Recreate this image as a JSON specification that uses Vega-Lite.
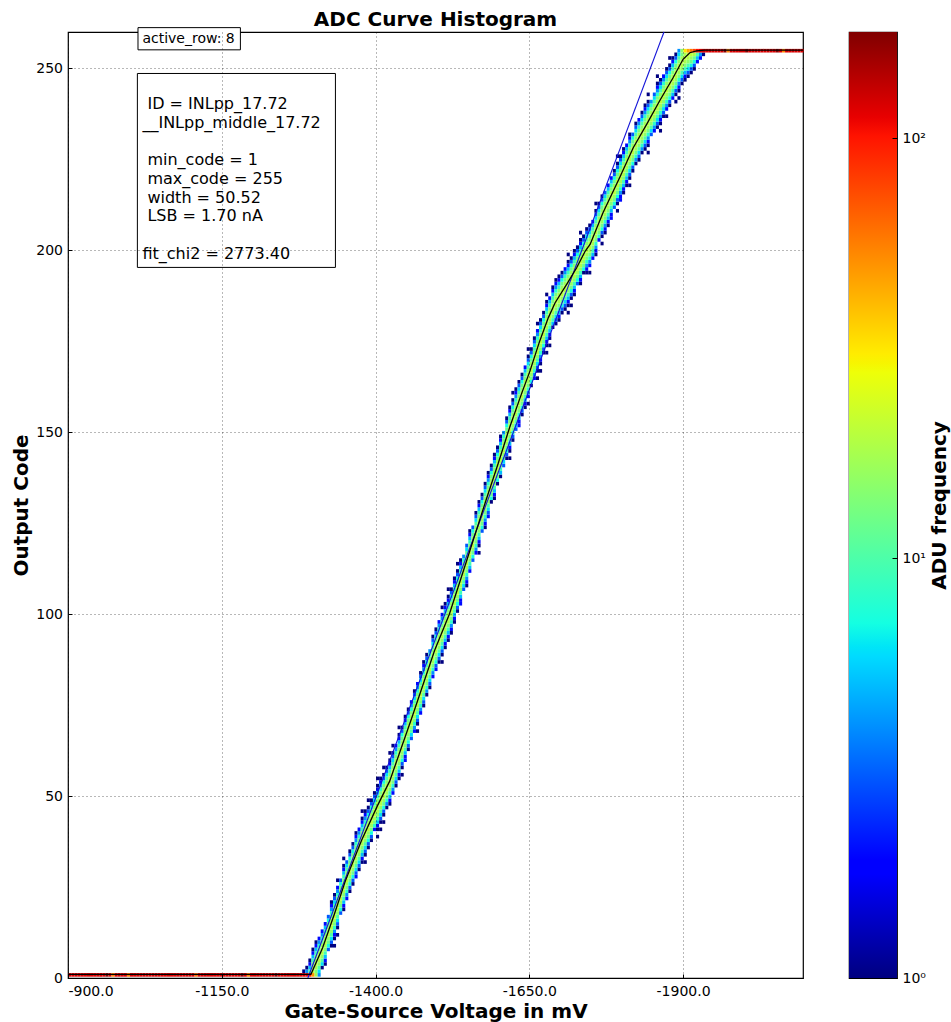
{
"$schema":"https://vega.github.io/schema/vega-lite/v6.json",
"background":"white",
"padding":{"left":11,"top":9,"right":0,"bottom":0},
"bounds":"flush",
"spacing":46,
"config":{"font":"DejaVu Sans","view":{"stroke":"#000","strokeWidth":1.2},
"axis":{"labelFont":"DejaVu Sans","labelFontSize":14,"labelColor":"#000","titleFont":"DejaVu Sans","titleFontSize":20,"titleFontWeight":"bold","titleColor":"#000","domain":false,"grid":false,"tickColor":"#000"},
"title":{"font":"DejaVu Sans","fontSize":20,"fontWeight":"bold","color":"#000"}},
"hconcat":[
{"width":735,"height":946,
"title":{"text":"ADC Curve Histogram","frame":"group","anchor":"middle","offset":-3},
"layer":[
{"data":{"values":[
{"x":-905,"y":0.5,"n":121},{"x":-910,"y":0.5,"n":118},{"x":-915,"y":0.5,"n":124},{"x":-920,"y":0.5,"n":119},{"x":-925,"y":0.5,"n":122},{"x":-930,"y":0.5,"n":117},{"x":-935,"y":0.5,"n":125},{"x":-940,"y":0.5,"n":120},{"x":-945,"y":0.5,"n":118},{"x":-950,"y":0.5,"n":123},{"x":-955,"y":0.5,"n":119},{"x":-960,"y":0.5,"n":121},{"x":-965,"y":0.5,"n":170},{"x":-970,"y":0.5,"n":122},{"x":-975,"y":0.5,"n":55},{"x":-980,"y":0.5,"n":118},{"x":-985,"y":0.5,"n":124},{"x":-990,"y":0.5,"n":120},{"x":-995,"y":0.5,"n":121},{"x":-1000,"y":0.5,"n":58},
{"x":-1005,"y":0.5,"n":123},{"x":-1010,"y":0.5,"n":119},{"x":-1015,"y":0.5,"n":121},{"x":-1020,"y":0.5,"n":118},{"x":-1025,"y":0.5,"n":124},{"x":-1030,"y":0.5,"n":120},{"x":-1035,"y":0.5,"n":117},{"x":-1040,"y":0.5,"n":122},{"x":-1045,"y":0.5,"n":125},{"x":-1050,"y":0.5,"n":119},{"x":-1055,"y":0.5,"n":121},{"x":-1060,"y":0.5,"n":118},{"x":-1065,"y":0.5,"n":123},{"x":-1070,"y":0.5,"n":120},{"x":-1075,"y":0.5,"n":119},{"x":-1080,"y":0.5,"n":124},{"x":-1085,"y":0.5,"n":121},{"x":-1090,"y":0.5,"n":117},{"x":-1095,"y":0.5,"n":122},{"x":-1100,"y":0.5,"n":120},
{"x":-1105,"y":0.5,"n":123},{"x":-1110,"y":0.5,"n":60},{"x":-1115,"y":0.5,"n":119},{"x":-1120,"y":0.5,"n":121},{"x":-1125,"y":0.5,"n":124},{"x":-1130,"y":0.5,"n":118},{"x":-1135,"y":0.5,"n":122},{"x":-1140,"y":0.5,"n":120},{"x":-1145,"y":0.5,"n":117},{"x":-1150,"y":0.5,"n":123},{"x":-1155,"y":0.5,"n":121},{"x":-1160,"y":0.5,"n":119},{"x":-1165,"y":0.5,"n":124},{"x":-1170,"y":0.5,"n":120},{"x":-1175,"y":0.5,"n":118},{"x":-1180,"y":0.5,"n":122},{"x":-1185,"y":0.5,"n":170},{"x":-1190,"y":0.5,"n":121},{"x":-1195,"y":0.5,"n":55},{"x":-1200,"y":0.5,"n":119},
{"x":-1205,"y":0.5,"n":123},{"x":-1210,"y":0.5,"n":120},{"x":-1215,"y":0.5,"n":118},{"x":-1220,"y":0.5,"n":124},{"x":-1225,"y":0.5,"n":121},{"x":-1230,"y":0.5,"n":119},{"x":-1235,"y":0.5,"n":122},{"x":-1240,"y":0.5,"n":168},{"x":-1245,"y":0.5,"n":120},{"x":-1250,"y":0.5,"n":118},{"x":-1255,"y":0.5,"n":123},{"x":-1260,"y":0.5,"n":121},{"x":-1265,"y":0.5,"n":119},{"x":-1270,"y":0.5,"n":124},{"x":-1275,"y":0.5,"n":120},{"x":-1280,"y":0.5,"n":118},{"x":-1285,"y":0.5,"n":120},{"x":-1285,"y":1.5,"n":1},{"x":-1290,"y":0.5,"n":110},{"x":-1290,"y":1.5,"n":4},{"x":-1290,"y":2.5,"n":1},
{"x":-1295,"y":0.5,"n":95},{"x":-1295,"y":1.5,"n":10},{"x":-1295,"y":2.5,"n":5},{"x":-1295,"y":3.5,"n":2},{"x":-1295,"y":4.5,"n":1},
{"x":-1300,"y":0.5,"n":49},{"x":-1300,"y":1.5,"n":20},{"x":-1300,"y":2.5,"n":18},{"x":-1300,"y":3.5,"n":14},{"x":-1300,"y":4.5,"n":9},{"x":-1300,"y":5.5,"n":5},{"x":-1300,"y":6.5,"n":2},{"x":-1300,"y":7.5,"n":1},
{"x":-1305,"y":0.5,"n":17},{"x":-1305,"y":1.5,"n":14},{"x":-1305,"y":2.5,"n":18},{"x":-1305,"y":3.5,"n":20},{"x":-1305,"y":4.5,"n":18},{"x":-1305,"y":5.5,"n":14},{"x":-1305,"y":6.5,"n":9},{"x":-1305,"y":7.5,"n":5},{"x":-1305,"y":8.5,"n":2},{"x":-1305,"y":9.5,"n":1},
{"x":-1310,"y":0.5,"n":4},{"x":-1310,"y":1.5,"n":6},{"x":-1310,"y":2.5,"n":10},{"x":-1310,"y":3.5,"n":15},{"x":-1310,"y":4.5,"n":19},{"x":-1310,"y":5.5,"n":20},{"x":-1310,"y":6.5,"n":17},{"x":-1310,"y":7.5,"n":13},{"x":-1310,"y":8.5,"n":8},{"x":-1310,"y":9.5,"n":4},{"x":-1310,"y":10.5,"n":2},
{"x":-1315,"y":2.5,"n":1},{"x":-1315,"y":3.5,"n":6},{"x":-1315,"y":4.5,"n":10},{"x":-1315,"y":5.5,"n":15},{"x":-1315,"y":6.5,"n":19},{"x":-1315,"y":7.5,"n":21},{"x":-1315,"y":8.5,"n":17},{"x":-1315,"y":9.5,"n":13},{"x":-1315,"y":10.5,"n":8},{"x":-1315,"y":11.5,"n":4},{"x":-1315,"y":12.5,"n":2},
{"x":-1320,"y":3.5,"n":1},{"x":-1320,"y":4.5,"n":2},{"x":-1320,"y":5.5,"n":5},{"x":-1320,"y":6.5,"n":9},{"x":-1320,"y":7.5,"n":14},{"x":-1320,"y":8.5,"n":18},{"x":-1320,"y":9.5,"n":20},{"x":-1320,"y":10.5,"n":18},{"x":-1320,"y":11.5,"n":14},{"x":-1320,"y":12.5,"n":9},{"x":-1320,"y":13.5,"n":5},{"x":-1320,"y":14.5,"n":2},
{"x":-1325,"y":7.5,"n":3},{"x":-1325,"y":8.5,"n":7},{"x":-1325,"y":9.5,"n":12},{"x":-1325,"y":10.5,"n":16},{"x":-1325,"y":11.5,"n":20},{"x":-1325,"y":12.5,"n":19},{"x":-1325,"y":13.5,"n":16},{"x":-1325,"y":14.5,"n":12},{"x":-1325,"y":15.5,"n":7},{"x":-1325,"y":16.5,"n":3},
{"x":-1330,"y":8.5,"n":1},{"x":-1330,"y":9.5,"n":3},{"x":-1330,"y":10.5,"n":6},{"x":-1330,"y":11.5,"n":10},{"x":-1330,"y":12.5,"n":15},{"x":-1330,"y":13.5,"n":19},{"x":-1330,"y":14.5,"n":20},{"x":-1330,"y":15.5,"n":17},{"x":-1330,"y":16.5,"n":13},{"x":-1330,"y":17.5,"n":8},{"x":-1330,"y":18.5,"n":4},{"x":-1330,"y":19.5,"n":2},{"x":-1330,"y":20.5,"n":1},
{"x":-1335,"y":8.5,"n":1},{"x":-1335,"y":10.5,"n":1},{"x":-1335,"y":11.5,"n":2},{"x":-1335,"y":12.5,"n":4},{"x":-1335,"y":13.5,"n":8},{"x":-1335,"y":14.5,"n":13},{"x":-1335,"y":15.5,"n":17},{"x":-1335,"y":16.5,"n":21},{"x":-1335,"y":17.5,"n":19},{"x":-1335,"y":18.5,"n":15},{"x":-1335,"y":19.5,"n":10},{"x":-1335,"y":20.5,"n":6},{"x":-1335,"y":21.5,"n":3},{"x":-1335,"y":22.5,"n":1},
{"x":-1340,"y":11.5,"n":1},{"x":-1340,"y":13.5,"n":1},{"x":-1340,"y":14.5,"n":3},{"x":-1340,"y":15.5,"n":6},{"x":-1340,"y":16.5,"n":10},{"x":-1340,"y":17.5,"n":15},{"x":-1340,"y":18.5,"n":19},{"x":-1340,"y":19.5,"n":20},{"x":-1340,"y":20.5,"n":17},{"x":-1340,"y":21.5,"n":13},{"x":-1340,"y":22.5,"n":8},{"x":-1340,"y":23.5,"n":4},{"x":-1340,"y":24.5,"n":2},{"x":-1340,"y":26.5,"n":1},
{"x":-1345,"y":17.5,"n":3},{"x":-1345,"y":18.5,"n":7},{"x":-1345,"y":19.5,"n":12},{"x":-1345,"y":20.5,"n":16},{"x":-1345,"y":21.5,"n":20},{"x":-1345,"y":22.5,"n":20},{"x":-1345,"y":23.5,"n":16},{"x":-1345,"y":24.5,"n":12},{"x":-1345,"y":25.5,"n":7},{"x":-1345,"y":26.5,"n":3},
{"x":-1350,"y":18.5,"n":1},{"x":-1350,"y":19.5,"n":2},{"x":-1350,"y":20.5,"n":5},{"x":-1350,"y":21.5,"n":9},{"x":-1350,"y":22.5,"n":14},{"x":-1350,"y":23.5,"n":18},{"x":-1350,"y":24.5,"n":21},{"x":-1350,"y":25.5,"n":18},{"x":-1350,"y":26.5,"n":14},{"x":-1350,"y":27.5,"n":9},{"x":-1350,"y":28.5,"n":5},{"x":-1350,"y":29.5,"n":2},{"x":-1350,"y":30.5,"n":1},{"x":-1350,"y":32.5,"n":1},
{"x":-1355,"y":21.5,"n":2},{"x":-1355,"y":22.5,"n":4},{"x":-1355,"y":23.5,"n":8},{"x":-1355,"y":24.5,"n":13},{"x":-1355,"y":25.5,"n":17},{"x":-1355,"y":26.5,"n":20},{"x":-1355,"y":27.5,"n":19},{"x":-1355,"y":28.5,"n":15},{"x":-1355,"y":29.5,"n":10},{"x":-1355,"y":30.5,"n":6},{"x":-1355,"y":31.5,"n":3},
{"x":-1360,"y":23.5,"n":1},{"x":-1360,"y":24.5,"n":3},{"x":-1360,"y":25.5,"n":7},{"x":-1360,"y":26.5,"n":12},{"x":-1360,"y":27.5,"n":16},{"x":-1360,"y":28.5,"n":20},{"x":-1360,"y":29.5,"n":20},{"x":-1360,"y":30.5,"n":16},{"x":-1360,"y":31.5,"n":12},{"x":-1360,"y":32.5,"n":7},{"x":-1360,"y":33.5,"n":3},{"x":-1360,"y":34.5,"n":1},
{"x":-1365,"y":25.5,"n":1},{"x":-1365,"y":26.5,"n":3},{"x":-1365,"y":27.5,"n":7},{"x":-1365,"y":28.5,"n":12},{"x":-1365,"y":29.5,"n":16},{"x":-1365,"y":30.5,"n":19},{"x":-1365,"y":31.5,"n":21},{"x":-1365,"y":32.5,"n":16},{"x":-1365,"y":33.5,"n":12},{"x":-1365,"y":34.5,"n":7},{"x":-1365,"y":35.5,"n":3},{"x":-1365,"y":36.5,"n":1},
{"x":-1370,"y":27.5,"n":2},{"x":-1370,"y":28.5,"n":3},{"x":-1370,"y":29.5,"n":6},{"x":-1370,"y":30.5,"n":10},{"x":-1370,"y":31.5,"n":15},{"x":-1370,"y":32.5,"n":19},{"x":-1370,"y":33.5,"n":20},{"x":-1370,"y":34.5,"n":17},{"x":-1370,"y":35.5,"n":13},{"x":-1370,"y":36.5,"n":8},{"x":-1370,"y":37.5,"n":4},{"x":-1370,"y":38.5,"n":2},{"x":-1370,"y":39.5,"n":1},
{"x":-1375,"y":29.5,"n":1},{"x":-1375,"y":30.5,"n":3},{"x":-1375,"y":31.5,"n":6},{"x":-1375,"y":32.5,"n":10},{"x":-1375,"y":33.5,"n":15},{"x":-1375,"y":34.5,"n":19},{"x":-1375,"y":35.5,"n":20},{"x":-1375,"y":36.5,"n":17},{"x":-1375,"y":37.5,"n":13},{"x":-1375,"y":38.5,"n":8},{"x":-1375,"y":39.5,"n":4},{"x":-1375,"y":40.5,"n":2},
{"x":-1380,"y":31.5,"n":1},{"x":-1380,"y":32.5,"n":2},{"x":-1380,"y":33.5,"n":5},{"x":-1380,"y":34.5,"n":9},{"x":-1380,"y":35.5,"n":14},{"x":-1380,"y":36.5,"n":18},{"x":-1380,"y":37.5,"n":20},{"x":-1380,"y":38.5,"n":18},{"x":-1380,"y":39.5,"n":14},{"x":-1380,"y":40.5,"n":9},{"x":-1380,"y":41.5,"n":5},{"x":-1380,"y":42.5,"n":2},{"x":-1380,"y":43.5,"n":1},{"x":-1380,"y":45.5,"n":1},
{"x":-1385,"y":31.5,"n":1},{"x":-1385,"y":33.5,"n":1},{"x":-1385,"y":34.5,"n":3},{"x":-1385,"y":35.5,"n":6},{"x":-1385,"y":36.5,"n":10},{"x":-1385,"y":37.5,"n":15},{"x":-1385,"y":38.5,"n":19},{"x":-1385,"y":39.5,"n":20},{"x":-1385,"y":40.5,"n":17},{"x":-1385,"y":41.5,"n":13},{"x":-1385,"y":42.5,"n":8},{"x":-1385,"y":43.5,"n":4},{"x":-1385,"y":44.5,"n":2},{"x":-1385,"y":45.5,"n":1},
{"x":-1390,"y":35.5,"n":1},{"x":-1390,"y":36.5,"n":3},{"x":-1390,"y":37.5,"n":7},{"x":-1390,"y":38.5,"n":12},{"x":-1390,"y":39.5,"n":16},{"x":-1390,"y":40.5,"n":20},{"x":-1390,"y":41.5,"n":20},{"x":-1390,"y":42.5,"n":16},{"x":-1390,"y":43.5,"n":12},{"x":-1390,"y":44.5,"n":7},{"x":-1390,"y":45.5,"n":3},{"x":-1390,"y":46.5,"n":1},{"x":-1390,"y":48.5,"n":1},
{"x":-1395,"y":37.5,"n":1},{"x":-1395,"y":38.5,"n":3},{"x":-1395,"y":39.5,"n":7},{"x":-1395,"y":40.5,"n":12},{"x":-1395,"y":41.5,"n":16},{"x":-1395,"y":42.5,"n":20},{"x":-1395,"y":43.5,"n":20},{"x":-1395,"y":44.5,"n":16},{"x":-1395,"y":45.5,"n":12},{"x":-1395,"y":46.5,"n":7},{"x":-1395,"y":47.5,"n":3},{"x":-1395,"y":48.5,"n":1},
{"x":-1400,"y":40.5,"n":2},{"x":-1400,"y":41.5,"n":8},{"x":-1400,"y":42.5,"n":13},{"x":-1400,"y":43.5,"n":17},{"x":-1400,"y":44.5,"n":20},{"x":-1400,"y":45.5,"n":19},{"x":-1400,"y":46.5,"n":15},{"x":-1400,"y":47.5,"n":10},{"x":-1400,"y":48.5,"n":6},{"x":-1400,"y":49.5,"n":3},{"x":-1400,"y":50.5,"n":1},
{"x":-1405,"y":38.5,"n":1},{"x":-1405,"y":40.5,"n":1},{"x":-1405,"y":41.5,"n":2},{"x":-1405,"y":42.5,"n":5},{"x":-1405,"y":43.5,"n":9},{"x":-1405,"y":44.5,"n":14},{"x":-1405,"y":45.5,"n":18},{"x":-1405,"y":46.5,"n":20},{"x":-1405,"y":47.5,"n":18},{"x":-1405,"y":48.5,"n":14},{"x":-1405,"y":49.5,"n":9},{"x":-1405,"y":50.5,"n":5},{"x":-1405,"y":51.5,"n":2},{"x":-1405,"y":52.5,"n":1},{"x":-1405,"y":54.5,"n":1},
{"x":-1410,"y":40.5,"n":1},{"x":-1410,"y":42.5,"n":1},{"x":-1410,"y":43.5,"n":3},{"x":-1410,"y":44.5,"n":6},{"x":-1410,"y":45.5,"n":10},{"x":-1410,"y":46.5,"n":15},{"x":-1410,"y":47.5,"n":19},{"x":-1410,"y":48.5,"n":20},{"x":-1410,"y":49.5,"n":17},{"x":-1410,"y":50.5,"n":13},{"x":-1410,"y":51.5,"n":8},{"x":-1410,"y":52.5,"n":4},{"x":-1410,"y":53.5,"n":2},{"x":-1410,"y":54.5,"n":1},
{"x":-1415,"y":42.5,"n":1},{"x":-1415,"y":44.5,"n":1},{"x":-1415,"y":45.5,"n":3},{"x":-1415,"y":46.5,"n":7},{"x":-1415,"y":47.5,"n":12},{"x":-1415,"y":48.5,"n":16},{"x":-1415,"y":49.5,"n":20},{"x":-1415,"y":50.5,"n":20},{"x":-1415,"y":51.5,"n":16},{"x":-1415,"y":52.5,"n":12},{"x":-1415,"y":53.5,"n":7},{"x":-1415,"y":54.5,"n":3},{"x":-1415,"y":55.5,"n":1},{"x":-1415,"y":57.5,"n":1},
{"x":-1420,"y":46.5,"n":1},{"x":-1420,"y":47.5,"n":4},{"x":-1420,"y":48.5,"n":8},{"x":-1420,"y":49.5,"n":13},{"x":-1420,"y":50.5,"n":17},{"x":-1420,"y":51.5,"n":20},{"x":-1420,"y":52.5,"n":19},{"x":-1420,"y":53.5,"n":15},{"x":-1420,"y":54.5,"n":10},{"x":-1420,"y":55.5,"n":6},{"x":-1420,"y":56.5,"n":3},{"x":-1420,"y":57.5,"n":1},
{"x":-1425,"y":47.5,"n":1},{"x":-1425,"y":48.5,"n":2},{"x":-1425,"y":49.5,"n":5},{"x":-1425,"y":50.5,"n":9},{"x":-1425,"y":51.5,"n":14},{"x":-1425,"y":52.5,"n":18},{"x":-1425,"y":53.5,"n":20},{"x":-1425,"y":54.5,"n":18},{"x":-1425,"y":55.5,"n":14},{"x":-1425,"y":56.5,"n":9},{"x":-1425,"y":57.5,"n":5},{"x":-1425,"y":58.5,"n":2},{"x":-1425,"y":59.5,"n":1},{"x":-1425,"y":61.5,"n":1},
{"x":-1430,"y":50.5,"n":2},{"x":-1430,"y":51.5,"n":4},{"x":-1430,"y":52.5,"n":8},{"x":-1430,"y":53.5,"n":13},{"x":-1430,"y":54.5,"n":17},{"x":-1430,"y":55.5,"n":20},{"x":-1430,"y":56.5,"n":19},{"x":-1430,"y":57.5,"n":15},{"x":-1430,"y":58.5,"n":10},{"x":-1430,"y":59.5,"n":6},{"x":-1430,"y":60.5,"n":3},{"x":-1430,"y":61.5,"n":1},{"x":-1430,"y":63.5,"n":1},
{"x":-1435,"y":52.5,"n":1},{"x":-1435,"y":53.5,"n":3},{"x":-1435,"y":54.5,"n":6},{"x":-1435,"y":55.5,"n":10},{"x":-1435,"y":56.5,"n":15},{"x":-1435,"y":57.5,"n":19},{"x":-1435,"y":58.5,"n":20},{"x":-1435,"y":59.5,"n":17},{"x":-1435,"y":60.5,"n":13},{"x":-1435,"y":61.5,"n":8},{"x":-1435,"y":62.5,"n":4},{"x":-1435,"y":63.5,"n":2},
{"x":-1440,"y":54.5,"n":1},{"x":-1440,"y":55.5,"n":2},{"x":-1440,"y":56.5,"n":5},{"x":-1440,"y":57.5,"n":9},{"x":-1440,"y":58.5,"n":14},{"x":-1440,"y":59.5,"n":18},{"x":-1440,"y":60.5,"n":20},{"x":-1440,"y":61.5,"n":18},{"x":-1440,"y":62.5,"n":14},{"x":-1440,"y":63.5,"n":9},{"x":-1440,"y":64.5,"n":5},{"x":-1440,"y":65.5,"n":2},{"x":-1440,"y":66.5,"n":1},{"x":-1440,"y":68.5,"n":1},
{"x":-1445,"y":55.5,"n":1},{"x":-1445,"y":57.5,"n":1},{"x":-1445,"y":58.5,"n":3},{"x":-1445,"y":59.5,"n":7},{"x":-1445,"y":60.5,"n":12},{"x":-1445,"y":61.5,"n":16},{"x":-1445,"y":62.5,"n":20},{"x":-1445,"y":63.5,"n":20},{"x":-1445,"y":64.5,"n":16},{"x":-1445,"y":65.5,"n":12},{"x":-1445,"y":66.5,"n":7},{"x":-1445,"y":67.5,"n":3},{"x":-1445,"y":68.5,"n":1},
{"x":-1450,"y":59.5,"n":2},{"x":-1450,"y":60.5,"n":2},{"x":-1450,"y":61.5,"n":5},{"x":-1450,"y":62.5,"n":9},{"x":-1450,"y":63.5,"n":14},{"x":-1450,"y":64.5,"n":18},{"x":-1450,"y":65.5,"n":20},{"x":-1450,"y":66.5,"n":18},{"x":-1450,"y":67.5,"n":14},{"x":-1450,"y":68.5,"n":9},{"x":-1450,"y":69.5,"n":5},{"x":-1450,"y":70.5,"n":2},{"x":-1450,"y":71.5,"n":1},
{"x":-1455,"y":62.5,"n":1},{"x":-1455,"y":63.5,"n":3},{"x":-1455,"y":64.5,"n":7},{"x":-1455,"y":65.5,"n":12},{"x":-1455,"y":66.5,"n":16},{"x":-1455,"y":67.5,"n":20},{"x":-1455,"y":68.5,"n":20},{"x":-1455,"y":69.5,"n":16},{"x":-1455,"y":70.5,"n":12},{"x":-1455,"y":71.5,"n":7},{"x":-1455,"y":72.5,"n":3},{"x":-1455,"y":73.5,"n":1},
{"x":-1460,"y":65.5,"n":3},{"x":-1460,"y":66.5,"n":6},{"x":-1460,"y":67.5,"n":10},{"x":-1460,"y":68.5,"n":15},{"x":-1460,"y":69.5,"n":19},{"x":-1460,"y":70.5,"n":20},{"x":-1460,"y":71.5,"n":17},{"x":-1460,"y":72.5,"n":13},{"x":-1460,"y":73.5,"n":8},{"x":-1460,"y":74.5,"n":4},{"x":-1460,"y":75.5,"n":2},
{"x":-1465,"y":67.5,"n":2},{"x":-1465,"y":68.5,"n":4},{"x":-1465,"y":69.5,"n":8},{"x":-1465,"y":70.5,"n":13},{"x":-1465,"y":71.5,"n":17},{"x":-1465,"y":72.5,"n":20},{"x":-1465,"y":73.5,"n":19},{"x":-1465,"y":74.5,"n":15},{"x":-1465,"y":75.5,"n":10},{"x":-1465,"y":76.5,"n":6},{"x":-1465,"y":77.5,"n":3},{"x":-1465,"y":78.5,"n":1},
{"x":-1470,"y":67.5,"n":1},{"x":-1470,"y":69.5,"n":1},{"x":-1470,"y":70.5,"n":3},{"x":-1470,"y":71.5,"n":6},{"x":-1470,"y":72.5,"n":10},{"x":-1470,"y":73.5,"n":15},{"x":-1470,"y":74.5,"n":19},{"x":-1470,"y":75.5,"n":20},{"x":-1470,"y":76.5,"n":17},{"x":-1470,"y":77.5,"n":13},{"x":-1470,"y":78.5,"n":8},{"x":-1470,"y":79.5,"n":4},{"x":-1470,"y":80.5,"n":2},
{"x":-1475,"y":72.5,"n":2},{"x":-1475,"y":73.5,"n":4},{"x":-1475,"y":74.5,"n":8},{"x":-1475,"y":75.5,"n":13},{"x":-1475,"y":76.5,"n":17},{"x":-1475,"y":77.5,"n":20},{"x":-1475,"y":78.5,"n":19},{"x":-1475,"y":79.5,"n":15},{"x":-1475,"y":80.5,"n":10},{"x":-1475,"y":81.5,"n":6},{"x":-1475,"y":82.5,"n":3},{"x":-1475,"y":83.5,"n":1},
{"x":-1480,"y":74.5,"n":1},{"x":-1480,"y":75.5,"n":3},{"x":-1480,"y":76.5,"n":6},{"x":-1480,"y":77.5,"n":10},{"x":-1480,"y":78.5,"n":15},{"x":-1480,"y":79.5,"n":19},{"x":-1480,"y":80.5,"n":20},{"x":-1480,"y":81.5,"n":17},{"x":-1480,"y":82.5,"n":13},{"x":-1480,"y":83.5,"n":8},{"x":-1480,"y":84.5,"n":4},{"x":-1480,"y":85.5,"n":2},{"x":-1480,"y":86.5,"n":1},
{"x":-1485,"y":77.5,"n":1},{"x":-1485,"y":78.5,"n":4},{"x":-1485,"y":79.5,"n":8},{"x":-1485,"y":80.5,"n":13},{"x":-1485,"y":81.5,"n":17},{"x":-1485,"y":82.5,"n":20},{"x":-1485,"y":83.5,"n":19},{"x":-1485,"y":84.5,"n":15},{"x":-1485,"y":85.5,"n":10},{"x":-1485,"y":86.5,"n":6},{"x":-1485,"y":87.5,"n":3},{"x":-1485,"y":88.5,"n":1},
{"x":-1490,"y":79.5,"n":1},{"x":-1490,"y":80.5,"n":3},{"x":-1490,"y":81.5,"n":6},{"x":-1490,"y":82.5,"n":10},{"x":-1490,"y":83.5,"n":15},{"x":-1490,"y":84.5,"n":19},{"x":-1490,"y":85.5,"n":20},{"x":-1490,"y":86.5,"n":17},{"x":-1490,"y":87.5,"n":13},{"x":-1490,"y":88.5,"n":8},{"x":-1490,"y":89.5,"n":4},
{"x":-1495,"y":82.5,"n":2},{"x":-1495,"y":83.5,"n":4},{"x":-1495,"y":84.5,"n":8},{"x":-1495,"y":85.5,"n":13},{"x":-1495,"y":86.5,"n":17},{"x":-1495,"y":87.5,"n":20},{"x":-1495,"y":88.5,"n":19},{"x":-1495,"y":89.5,"n":15},{"x":-1495,"y":90.5,"n":10},{"x":-1495,"y":91.5,"n":6},{"x":-1495,"y":92.5,"n":3},{"x":-1495,"y":93.5,"n":1},
{"x":-1500,"y":84.5,"n":2},{"x":-1500,"y":85.5,"n":3},{"x":-1500,"y":86.5,"n":7},{"x":-1500,"y":87.5,"n":12},{"x":-1500,"y":88.5,"n":16},{"x":-1500,"y":89.5,"n":20},{"x":-1500,"y":90.5,"n":20},{"x":-1500,"y":91.5,"n":16},{"x":-1500,"y":92.5,"n":12},{"x":-1500,"y":93.5,"n":7},{"x":-1500,"y":94.5,"n":3},{"x":-1500,"y":95.5,"n":1},
{"x":-1505,"y":86.5,"n":1},{"x":-1505,"y":87.5,"n":3},{"x":-1505,"y":88.5,"n":6},{"x":-1505,"y":89.5,"n":10},{"x":-1505,"y":90.5,"n":15},{"x":-1505,"y":91.5,"n":19},{"x":-1505,"y":92.5,"n":20},{"x":-1505,"y":93.5,"n":17},{"x":-1505,"y":94.5,"n":13},{"x":-1505,"y":95.5,"n":8},{"x":-1505,"y":96.5,"n":4},{"x":-1505,"y":97.5,"n":2},
{"x":-1510,"y":86.5,"n":1},{"x":-1510,"y":88.5,"n":1},{"x":-1510,"y":89.5,"n":3},{"x":-1510,"y":90.5,"n":6},{"x":-1510,"y":91.5,"n":10},{"x":-1510,"y":92.5,"n":15},{"x":-1510,"y":93.5,"n":19},{"x":-1510,"y":94.5,"n":20},{"x":-1510,"y":95.5,"n":17},{"x":-1510,"y":96.5,"n":13},{"x":-1510,"y":97.5,"n":8},{"x":-1510,"y":98.5,"n":4},{"x":-1510,"y":99.5,"n":2},{"x":-1510,"y":101.5,"n":1},
{"x":-1515,"y":90.5,"n":1},{"x":-1515,"y":91.5,"n":2},{"x":-1515,"y":92.5,"n":5},{"x":-1515,"y":93.5,"n":9},{"x":-1515,"y":94.5,"n":14},{"x":-1515,"y":95.5,"n":18},{"x":-1515,"y":96.5,"n":20},{"x":-1515,"y":97.5,"n":18},{"x":-1515,"y":98.5,"n":14},{"x":-1515,"y":99.5,"n":9},{"x":-1515,"y":100.5,"n":5},{"x":-1515,"y":101.5,"n":2},{"x":-1515,"y":102.5,"n":1},
{"x":-1520,"y":92.5,"n":1},{"x":-1520,"y":93.5,"n":2},{"x":-1520,"y":94.5,"n":5},{"x":-1520,"y":95.5,"n":9},{"x":-1520,"y":96.5,"n":14},{"x":-1520,"y":97.5,"n":18},{"x":-1520,"y":98.5,"n":21},{"x":-1520,"y":99.5,"n":18},{"x":-1520,"y":100.5,"n":14},{"x":-1520,"y":101.5,"n":9},{"x":-1520,"y":102.5,"n":5},{"x":-1520,"y":103.5,"n":2},{"x":-1520,"y":104.5,"n":1},{"x":-1520,"y":106.5,"n":1},
{"x":-1525,"y":94.5,"n":1},{"x":-1525,"y":95.5,"n":2},{"x":-1525,"y":96.5,"n":4},{"x":-1525,"y":97.5,"n":8},{"x":-1525,"y":98.5,"n":13},{"x":-1525,"y":99.5,"n":17},{"x":-1525,"y":100.5,"n":20},{"x":-1525,"y":101.5,"n":19},{"x":-1525,"y":102.5,"n":15},{"x":-1525,"y":103.5,"n":10},{"x":-1525,"y":104.5,"n":6},{"x":-1525,"y":105.5,"n":3},{"x":-1525,"y":106.5,"n":1},
{"x":-1530,"y":97.5,"n":1},{"x":-1530,"y":98.5,"n":2},{"x":-1530,"y":99.5,"n":5},{"x":-1530,"y":100.5,"n":9},{"x":-1530,"y":101.5,"n":14},{"x":-1530,"y":102.5,"n":18},{"x":-1530,"y":103.5,"n":20},{"x":-1530,"y":104.5,"n":18},{"x":-1530,"y":105.5,"n":14},{"x":-1530,"y":106.5,"n":9},{"x":-1530,"y":107.5,"n":5},{"x":-1530,"y":108.5,"n":2},{"x":-1530,"y":109.5,"n":1},
{"x":-1535,"y":100.5,"n":1},{"x":-1535,"y":101.5,"n":3},{"x":-1535,"y":102.5,"n":7},{"x":-1535,"y":103.5,"n":12},{"x":-1535,"y":104.5,"n":16},{"x":-1535,"y":105.5,"n":20},{"x":-1535,"y":106.5,"n":20},{"x":-1535,"y":107.5,"n":16},{"x":-1535,"y":108.5,"n":12},{"x":-1535,"y":109.5,"n":7},{"x":-1535,"y":110.5,"n":3},{"x":-1535,"y":111.5,"n":1},{"x":-1535,"y":113.5,"n":1},
{"x":-1540,"y":102.5,"n":2},{"x":-1540,"y":103.5,"n":2},{"x":-1540,"y":104.5,"n":5},{"x":-1540,"y":105.5,"n":9},{"x":-1540,"y":106.5,"n":14},{"x":-1540,"y":107.5,"n":18},{"x":-1540,"y":108.5,"n":20},{"x":-1540,"y":109.5,"n":18},{"x":-1540,"y":110.5,"n":14},{"x":-1540,"y":111.5,"n":9},{"x":-1540,"y":112.5,"n":5},{"x":-1540,"y":113.5,"n":2},{"x":-1540,"y":114.5,"n":1},
{"x":-1545,"y":106.5,"n":3},{"x":-1545,"y":107.5,"n":6},{"x":-1545,"y":108.5,"n":10},{"x":-1545,"y":109.5,"n":15},{"x":-1545,"y":110.5,"n":19},{"x":-1545,"y":111.5,"n":20},{"x":-1545,"y":112.5,"n":17},{"x":-1545,"y":113.5,"n":13},{"x":-1545,"y":114.5,"n":8},{"x":-1545,"y":115.5,"n":4},
{"x":-1550,"y":107.5,"n":1},{"x":-1550,"y":108.5,"n":2},{"x":-1550,"y":109.5,"n":4},{"x":-1550,"y":110.5,"n":8},{"x":-1550,"y":111.5,"n":13},{"x":-1550,"y":112.5,"n":17},{"x":-1550,"y":113.5,"n":20},{"x":-1550,"y":114.5,"n":19},{"x":-1550,"y":115.5,"n":15},{"x":-1550,"y":116.5,"n":10},{"x":-1550,"y":117.5,"n":6},{"x":-1550,"y":118.5,"n":3},
{"x":-1555,"y":111.5,"n":2},{"x":-1555,"y":112.5,"n":5},{"x":-1555,"y":113.5,"n":9},{"x":-1555,"y":114.5,"n":14},{"x":-1555,"y":115.5,"n":18},{"x":-1555,"y":116.5,"n":20},{"x":-1555,"y":117.5,"n":18},{"x":-1555,"y":118.5,"n":14},{"x":-1555,"y":119.5,"n":9},{"x":-1555,"y":120.5,"n":5},{"x":-1555,"y":121.5,"n":2},{"x":-1555,"y":122.5,"n":1},
{"x":-1560,"y":114.5,"n":3},{"x":-1560,"y":115.5,"n":7},{"x":-1560,"y":116.5,"n":12},{"x":-1560,"y":117.5,"n":16},{"x":-1560,"y":118.5,"n":20},{"x":-1560,"y":119.5,"n":20},{"x":-1560,"y":120.5,"n":16},{"x":-1560,"y":121.5,"n":12},{"x":-1560,"y":122.5,"n":7},{"x":-1560,"y":123.5,"n":3},
{"x":-1565,"y":116.5,"n":2},{"x":-1565,"y":117.5,"n":4},{"x":-1565,"y":118.5,"n":8},{"x":-1565,"y":119.5,"n":13},{"x":-1565,"y":120.5,"n":17},{"x":-1565,"y":121.5,"n":20},{"x":-1565,"y":122.5,"n":19},{"x":-1565,"y":123.5,"n":15},{"x":-1565,"y":124.5,"n":10},{"x":-1565,"y":125.5,"n":6},{"x":-1565,"y":126.5,"n":3},{"x":-1565,"y":127.5,"n":1},
{"x":-1570,"y":116.5,"n":1},{"x":-1570,"y":118.5,"n":1},{"x":-1570,"y":119.5,"n":2},{"x":-1570,"y":120.5,"n":5},{"x":-1570,"y":121.5,"n":9},{"x":-1570,"y":122.5,"n":14},{"x":-1570,"y":123.5,"n":18},{"x":-1570,"y":124.5,"n":20},{"x":-1570,"y":125.5,"n":18},{"x":-1570,"y":126.5,"n":14},{"x":-1570,"y":127.5,"n":9},{"x":-1570,"y":128.5,"n":5},{"x":-1570,"y":129.5,"n":2},{"x":-1570,"y":130.5,"n":1},
{"x":-1575,"y":122.5,"n":3},{"x":-1575,"y":123.5,"n":7},{"x":-1575,"y":124.5,"n":12},{"x":-1575,"y":125.5,"n":16},{"x":-1575,"y":126.5,"n":20},{"x":-1575,"y":127.5,"n":20},{"x":-1575,"y":128.5,"n":16},{"x":-1575,"y":129.5,"n":12},{"x":-1575,"y":130.5,"n":7},{"x":-1575,"y":131.5,"n":3},{"x":-1575,"y":132.5,"n":1},
{"x":-1580,"y":123.5,"n":1},{"x":-1580,"y":124.5,"n":2},{"x":-1580,"y":125.5,"n":4},{"x":-1580,"y":126.5,"n":8},{"x":-1580,"y":127.5,"n":13},{"x":-1580,"y":128.5,"n":17},{"x":-1580,"y":129.5,"n":20},{"x":-1580,"y":130.5,"n":19},{"x":-1580,"y":131.5,"n":15},{"x":-1580,"y":132.5,"n":10},{"x":-1580,"y":133.5,"n":6},{"x":-1580,"y":134.5,"n":3},{"x":-1580,"y":135.5,"n":1},
{"x":-1585,"y":126.5,"n":2},{"x":-1585,"y":127.5,"n":3},{"x":-1585,"y":128.5,"n":6},{"x":-1585,"y":129.5,"n":10},{"x":-1585,"y":130.5,"n":15},{"x":-1585,"y":131.5,"n":19},{"x":-1585,"y":132.5,"n":20},{"x":-1585,"y":133.5,"n":17},{"x":-1585,"y":134.5,"n":13},{"x":-1585,"y":135.5,"n":8},{"x":-1585,"y":136.5,"n":4},{"x":-1585,"y":137.5,"n":2},{"x":-1585,"y":138.5,"n":1},
{"x":-1590,"y":130.5,"n":1},{"x":-1590,"y":131.5,"n":7},{"x":-1590,"y":132.5,"n":12},{"x":-1590,"y":133.5,"n":16},{"x":-1590,"y":134.5,"n":20},{"x":-1590,"y":135.5,"n":20},{"x":-1590,"y":136.5,"n":16},{"x":-1590,"y":137.5,"n":12},{"x":-1590,"y":138.5,"n":7},{"x":-1590,"y":139.5,"n":3},{"x":-1590,"y":140.5,"n":1},
{"x":-1595,"y":131.5,"n":1},{"x":-1595,"y":132.5,"n":2},{"x":-1595,"y":133.5,"n":5},{"x":-1595,"y":134.5,"n":9},{"x":-1595,"y":135.5,"n":14},{"x":-1595,"y":136.5,"n":18},{"x":-1595,"y":137.5,"n":20},{"x":-1595,"y":138.5,"n":18},{"x":-1595,"y":139.5,"n":14},{"x":-1595,"y":140.5,"n":9},{"x":-1595,"y":141.5,"n":5},{"x":-1595,"y":142.5,"n":2},{"x":-1595,"y":143.5,"n":1},
{"x":-1600,"y":135.5,"n":1},{"x":-1600,"y":136.5,"n":7},{"x":-1600,"y":137.5,"n":12},{"x":-1600,"y":138.5,"n":16},{"x":-1600,"y":139.5,"n":20},{"x":-1600,"y":140.5,"n":20},{"x":-1600,"y":141.5,"n":16},{"x":-1600,"y":142.5,"n":12},{"x":-1600,"y":143.5,"n":7},{"x":-1600,"y":144.5,"n":3},{"x":-1600,"y":145.5,"n":1},
{"x":-1605,"y":137.5,"n":1},{"x":-1605,"y":138.5,"n":5},{"x":-1605,"y":139.5,"n":9},{"x":-1605,"y":140.5,"n":14},{"x":-1605,"y":141.5,"n":18},{"x":-1605,"y":142.5,"n":20},{"x":-1605,"y":143.5,"n":18},{"x":-1605,"y":144.5,"n":14},{"x":-1605,"y":145.5,"n":9},{"x":-1605,"y":146.5,"n":5},{"x":-1605,"y":147.5,"n":2},{"x":-1605,"y":148.5,"n":1},
{"x":-1610,"y":140.5,"n":3},{"x":-1610,"y":141.5,"n":6},{"x":-1610,"y":142.5,"n":10},{"x":-1610,"y":143.5,"n":15},{"x":-1610,"y":144.5,"n":19},{"x":-1610,"y":145.5,"n":20},{"x":-1610,"y":146.5,"n":17},{"x":-1610,"y":147.5,"n":13},{"x":-1610,"y":148.5,"n":8},{"x":-1610,"y":149.5,"n":4},
{"x":-1615,"y":142.5,"n":1},{"x":-1615,"y":143.5,"n":3},{"x":-1615,"y":144.5,"n":7},{"x":-1615,"y":145.5,"n":12},{"x":-1615,"y":146.5,"n":16},{"x":-1615,"y":147.5,"n":20},{"x":-1615,"y":148.5,"n":20},{"x":-1615,"y":149.5,"n":16},{"x":-1615,"y":150.5,"n":12},{"x":-1615,"y":151.5,"n":7},{"x":-1615,"y":152.5,"n":3},{"x":-1615,"y":153.5,"n":1},
{"x":-1620,"y":142.5,"n":1},{"x":-1620,"y":144.5,"n":1},{"x":-1620,"y":145.5,"n":2},{"x":-1620,"y":146.5,"n":5},{"x":-1620,"y":147.5,"n":9},{"x":-1620,"y":148.5,"n":14},{"x":-1620,"y":149.5,"n":18},{"x":-1620,"y":150.5,"n":20},{"x":-1620,"y":151.5,"n":18},{"x":-1620,"y":152.5,"n":14},{"x":-1620,"y":153.5,"n":9},{"x":-1620,"y":154.5,"n":5},{"x":-1620,"y":155.5,"n":2},{"x":-1620,"y":156.5,"n":1},
{"x":-1625,"y":147.5,"n":1},{"x":-1625,"y":148.5,"n":3},{"x":-1625,"y":149.5,"n":7},{"x":-1625,"y":150.5,"n":12},{"x":-1625,"y":151.5,"n":16},{"x":-1625,"y":152.5,"n":20},{"x":-1625,"y":153.5,"n":20},{"x":-1625,"y":154.5,"n":16},{"x":-1625,"y":155.5,"n":12},{"x":-1625,"y":156.5,"n":7},{"x":-1625,"y":157.5,"n":3},{"x":-1625,"y":158.5,"n":1},{"x":-1625,"y":160.5,"n":1},
{"x":-1630,"y":150.5,"n":3},{"x":-1630,"y":151.5,"n":6},{"x":-1630,"y":152.5,"n":10},{"x":-1630,"y":153.5,"n":15},{"x":-1630,"y":154.5,"n":19},{"x":-1630,"y":155.5,"n":20},{"x":-1630,"y":156.5,"n":17},{"x":-1630,"y":157.5,"n":13},{"x":-1630,"y":158.5,"n":8},{"x":-1630,"y":159.5,"n":4},{"x":-1630,"y":160.5,"n":2},{"x":-1630,"y":161.5,"n":1},
{"x":-1635,"y":151.5,"n":2},{"x":-1635,"y":152.5,"n":2},{"x":-1635,"y":153.5,"n":4},{"x":-1635,"y":154.5,"n":8},{"x":-1635,"y":155.5,"n":13},{"x":-1635,"y":156.5,"n":17},{"x":-1635,"y":157.5,"n":20},{"x":-1635,"y":158.5,"n":19},{"x":-1635,"y":159.5,"n":15},{"x":-1635,"y":160.5,"n":10},{"x":-1635,"y":161.5,"n":6},{"x":-1635,"y":162.5,"n":3},{"x":-1635,"y":163.5,"n":1},
{"x":-1640,"y":154.5,"n":1},{"x":-1640,"y":155.5,"n":3},{"x":-1640,"y":156.5,"n":7},{"x":-1640,"y":157.5,"n":12},{"x":-1640,"y":158.5,"n":16},{"x":-1640,"y":159.5,"n":20},{"x":-1640,"y":160.5,"n":20},{"x":-1640,"y":161.5,"n":16},{"x":-1640,"y":162.5,"n":12},{"x":-1640,"y":163.5,"n":7},{"x":-1640,"y":164.5,"n":3},{"x":-1640,"y":165.5,"n":1},
{"x":-1645,"y":156.5,"n":1},{"x":-1645,"y":157.5,"n":2},{"x":-1645,"y":158.5,"n":5},{"x":-1645,"y":159.5,"n":9},{"x":-1645,"y":160.5,"n":14},{"x":-1645,"y":161.5,"n":18},{"x":-1645,"y":162.5,"n":20},{"x":-1645,"y":163.5,"n":18},{"x":-1645,"y":164.5,"n":14},{"x":-1645,"y":165.5,"n":9},{"x":-1645,"y":166.5,"n":5},{"x":-1645,"y":167.5,"n":2},
{"x":-1650,"y":157.5,"n":1},{"x":-1650,"y":159.5,"n":2},{"x":-1650,"y":160.5,"n":4},{"x":-1650,"y":161.5,"n":8},{"x":-1650,"y":162.5,"n":13},{"x":-1650,"y":163.5,"n":17},{"x":-1650,"y":164.5,"n":20},{"x":-1650,"y":165.5,"n":19},{"x":-1650,"y":166.5,"n":15},{"x":-1650,"y":167.5,"n":10},{"x":-1650,"y":168.5,"n":6},{"x":-1650,"y":169.5,"n":3},{"x":-1650,"y":170.5,"n":1},{"x":-1650,"y":172.5,"n":1},
{"x":-1655,"y":162.5,"n":1},{"x":-1655,"y":163.5,"n":7},{"x":-1655,"y":164.5,"n":12},{"x":-1655,"y":165.5,"n":16},{"x":-1655,"y":166.5,"n":20},{"x":-1655,"y":167.5,"n":20},{"x":-1655,"y":168.5,"n":16},{"x":-1655,"y":169.5,"n":12},{"x":-1655,"y":170.5,"n":7},{"x":-1655,"y":171.5,"n":3},{"x":-1655,"y":172.5,"n":1},
{"x":-1660,"y":164.5,"n":2},{"x":-1660,"y":165.5,"n":4},{"x":-1660,"y":166.5,"n":8},{"x":-1660,"y":167.5,"n":13},{"x":-1660,"y":168.5,"n":17},{"x":-1660,"y":169.5,"n":20},{"x":-1660,"y":170.5,"n":19},{"x":-1660,"y":171.5,"n":15},{"x":-1660,"y":172.5,"n":10},{"x":-1660,"y":173.5,"n":6},{"x":-1660,"y":174.5,"n":3},{"x":-1660,"y":175.5,"n":1},
{"x":-1665,"y":164.5,"n":1},{"x":-1665,"y":166.5,"n":1},{"x":-1665,"y":167.5,"n":3},{"x":-1665,"y":168.5,"n":6},{"x":-1665,"y":169.5,"n":10},{"x":-1665,"y":170.5,"n":15},{"x":-1665,"y":171.5,"n":19},{"x":-1665,"y":172.5,"n":20},{"x":-1665,"y":173.5,"n":17},{"x":-1665,"y":174.5,"n":13},{"x":-1665,"y":175.5,"n":8},{"x":-1665,"y":176.5,"n":4},{"x":-1665,"y":177.5,"n":2},{"x":-1665,"y":179.5,"n":1},
{"x":-1670,"y":166.5,"n":1},{"x":-1670,"y":168.5,"n":1},{"x":-1670,"y":169.5,"n":2},{"x":-1670,"y":170.5,"n":4},{"x":-1670,"y":171.5,"n":8},{"x":-1670,"y":172.5,"n":13},{"x":-1670,"y":173.5,"n":17},{"x":-1670,"y":174.5,"n":20},{"x":-1670,"y":175.5,"n":19},{"x":-1670,"y":176.5,"n":15},{"x":-1670,"y":177.5,"n":10},{"x":-1670,"y":178.5,"n":6},{"x":-1670,"y":179.5,"n":3},{"x":-1670,"y":180.5,"n":1},
{"x":-1675,"y":171.5,"n":1},{"x":-1675,"y":172.5,"n":3},{"x":-1675,"y":173.5,"n":7},{"x":-1675,"y":174.5,"n":12},{"x":-1675,"y":175.5,"n":16},{"x":-1675,"y":176.5,"n":20},{"x":-1675,"y":177.5,"n":20},{"x":-1675,"y":178.5,"n":16},{"x":-1675,"y":179.5,"n":12},{"x":-1675,"y":180.5,"n":7},{"x":-1675,"y":181.5,"n":3},{"x":-1675,"y":182.5,"n":1},
{"x":-1680,"y":171.5,"n":1},{"x":-1680,"y":173.5,"n":1},{"x":-1680,"y":174.5,"n":2},{"x":-1680,"y":175.5,"n":5},{"x":-1680,"y":176.5,"n":9},{"x":-1680,"y":177.5,"n":14},{"x":-1680,"y":178.5,"n":18},{"x":-1680,"y":179.5,"n":20},{"x":-1680,"y":180.5,"n":18},{"x":-1680,"y":181.5,"n":14},{"x":-1680,"y":182.5,"n":9},{"x":-1680,"y":183.5,"n":5},{"x":-1680,"y":184.5,"n":2},{"x":-1680,"y":185.5,"n":1},{"x":-1680,"y":187.5,"n":1},
{"x":-1685,"y":173.5,"n":1},{"x":-1685,"y":175.5,"n":1},{"x":-1685,"y":176.5,"n":2},{"x":-1685,"y":177.5,"n":5},{"x":-1685,"y":178.5,"n":9},{"x":-1685,"y":179.5,"n":14},{"x":-1685,"y":180.5,"n":18},{"x":-1685,"y":181.5,"n":20},{"x":-1685,"y":182.5,"n":18},{"x":-1685,"y":183.5,"n":14},{"x":-1685,"y":184.5,"n":9},{"x":-1685,"y":185.5,"n":5},{"x":-1685,"y":186.5,"n":2},
{"x":-1690,"y":178.5,"n":1},{"x":-1690,"y":179.5,"n":5},{"x":-1690,"y":180.5,"n":9},{"x":-1690,"y":181.5,"n":14},{"x":-1690,"y":182.5,"n":18},{"x":-1690,"y":183.5,"n":20},{"x":-1690,"y":184.5,"n":18},{"x":-1690,"y":185.5,"n":14},{"x":-1690,"y":186.5,"n":9},{"x":-1690,"y":187.5,"n":5},{"x":-1690,"y":188.5,"n":2},{"x":-1690,"y":189.5,"n":1},
{"x":-1695,"y":179.5,"n":1},{"x":-1695,"y":180.5,"n":3},{"x":-1695,"y":181.5,"n":6},{"x":-1695,"y":182.5,"n":10},{"x":-1695,"y":183.5,"n":15},{"x":-1695,"y":184.5,"n":19},{"x":-1695,"y":185.5,"n":20},{"x":-1695,"y":186.5,"n":17},{"x":-1695,"y":187.5,"n":13},{"x":-1695,"y":188.5,"n":8},{"x":-1695,"y":189.5,"n":4},{"x":-1695,"y":190.5,"n":2},{"x":-1695,"y":191.5,"n":1},
{"x":-1700,"y":180.5,"n":1},{"x":-1700,"y":181.5,"n":2},{"x":-1700,"y":182.5,"n":5},{"x":-1700,"y":183.5,"n":9},{"x":-1700,"y":184.5,"n":14},{"x":-1700,"y":185.5,"n":18},{"x":-1700,"y":186.5,"n":20},{"x":-1700,"y":187.5,"n":18},{"x":-1700,"y":188.5,"n":14},{"x":-1700,"y":189.5,"n":9},{"x":-1700,"y":190.5,"n":5},{"x":-1700,"y":191.5,"n":2},{"x":-1700,"y":192.5,"n":1},
{"x":-1705,"y":182.5,"n":1},{"x":-1705,"y":183.5,"n":3},{"x":-1705,"y":184.5,"n":7},{"x":-1705,"y":185.5,"n":12},{"x":-1705,"y":186.5,"n":16},{"x":-1705,"y":187.5,"n":20},{"x":-1705,"y":188.5,"n":20},{"x":-1705,"y":189.5,"n":16},{"x":-1705,"y":190.5,"n":12},{"x":-1705,"y":191.5,"n":7},{"x":-1705,"y":192.5,"n":3},{"x":-1705,"y":193.5,"n":1},
{"x":-1710,"y":183.5,"n":1},{"x":-1710,"y":184.5,"n":3},{"x":-1710,"y":185.5,"n":6},{"x":-1710,"y":186.5,"n":10},{"x":-1710,"y":187.5,"n":15},{"x":-1710,"y":188.5,"n":19},{"x":-1710,"y":189.5,"n":20},{"x":-1710,"y":190.5,"n":17},{"x":-1710,"y":191.5,"n":13},{"x":-1710,"y":192.5,"n":8},{"x":-1710,"y":193.5,"n":4},{"x":-1710,"y":194.5,"n":2},
{"x":-1715,"y":182.5,"n":1},{"x":-1715,"y":184.5,"n":1},{"x":-1715,"y":185.5,"n":2},{"x":-1715,"y":186.5,"n":5},{"x":-1715,"y":187.5,"n":9},{"x":-1715,"y":188.5,"n":14},{"x":-1715,"y":189.5,"n":18},{"x":-1715,"y":190.5,"n":20},{"x":-1715,"y":191.5,"n":18},{"x":-1715,"y":192.5,"n":14},{"x":-1715,"y":193.5,"n":9},{"x":-1715,"y":194.5,"n":5},{"x":-1715,"y":195.5,"n":2},{"x":-1715,"y":196.5,"n":1},{"x":-1715,"y":198.5,"n":1},
{"x":-1720,"y":184.5,"n":1},{"x":-1720,"y":186.5,"n":1},{"x":-1720,"y":187.5,"n":3},{"x":-1720,"y":188.5,"n":7},{"x":-1720,"y":189.5,"n":12},{"x":-1720,"y":190.5,"n":16},{"x":-1720,"y":191.5,"n":20},{"x":-1720,"y":192.5,"n":20},{"x":-1720,"y":193.5,"n":16},{"x":-1720,"y":194.5,"n":12},{"x":-1720,"y":195.5,"n":7},{"x":-1720,"y":196.5,"n":3},{"x":-1720,"y":197.5,"n":1},
{"x":-1725,"y":187.5,"n":1},{"x":-1725,"y":188.5,"n":2},{"x":-1725,"y":189.5,"n":5},{"x":-1725,"y":190.5,"n":9},{"x":-1725,"y":191.5,"n":14},{"x":-1725,"y":192.5,"n":18},{"x":-1725,"y":193.5,"n":20},{"x":-1725,"y":194.5,"n":18},{"x":-1725,"y":195.5,"n":14},{"x":-1725,"y":196.5,"n":9},{"x":-1725,"y":197.5,"n":5},{"x":-1725,"y":198.5,"n":2},{"x":-1725,"y":199.5,"n":1},
{"x":-1730,"y":190.5,"n":3},{"x":-1730,"y":191.5,"n":7},{"x":-1730,"y":192.5,"n":12},{"x":-1730,"y":193.5,"n":16},{"x":-1730,"y":194.5,"n":20},{"x":-1730,"y":195.5,"n":20},{"x":-1730,"y":196.5,"n":16},{"x":-1730,"y":197.5,"n":12},{"x":-1730,"y":198.5,"n":7},{"x":-1730,"y":199.5,"n":3},{"x":-1730,"y":200.5,"n":1},
{"x":-1735,"y":190.5,"n":1},{"x":-1735,"y":191.5,"n":2},{"x":-1735,"y":192.5,"n":5},{"x":-1735,"y":193.5,"n":9},{"x":-1735,"y":194.5,"n":14},{"x":-1735,"y":195.5,"n":18},{"x":-1735,"y":196.5,"n":20},{"x":-1735,"y":197.5,"n":18},{"x":-1735,"y":198.5,"n":14},{"x":-1735,"y":199.5,"n":9},{"x":-1735,"y":200.5,"n":5},{"x":-1735,"y":201.5,"n":2},{"x":-1735,"y":202.5,"n":1},{"x":-1735,"y":204.5,"n":1},
{"x":-1740,"y":193.5,"n":1},{"x":-1740,"y":194.5,"n":7},{"x":-1740,"y":195.5,"n":12},{"x":-1740,"y":196.5,"n":16},{"x":-1740,"y":197.5,"n":20},{"x":-1740,"y":198.5,"n":20},{"x":-1740,"y":199.5,"n":16},{"x":-1740,"y":200.5,"n":12},{"x":-1740,"y":201.5,"n":7},{"x":-1740,"y":202.5,"n":3},{"x":-1740,"y":203.5,"n":1},
{"x":-1745,"y":193.5,"n":1},{"x":-1745,"y":194.5,"n":2},{"x":-1745,"y":195.5,"n":4},{"x":-1745,"y":196.5,"n":8},{"x":-1745,"y":197.5,"n":13},{"x":-1745,"y":198.5,"n":17},{"x":-1745,"y":199.5,"n":20},{"x":-1745,"y":200.5,"n":19},{"x":-1745,"y":201.5,"n":15},{"x":-1745,"y":202.5,"n":10},{"x":-1745,"y":203.5,"n":6},{"x":-1745,"y":204.5,"n":3},{"x":-1745,"y":205.5,"n":1},
{"x":-1750,"y":193.5,"n":1},{"x":-1750,"y":195.5,"n":2},{"x":-1750,"y":196.5,"n":4},{"x":-1750,"y":197.5,"n":8},{"x":-1750,"y":198.5,"n":13},{"x":-1750,"y":199.5,"n":17},{"x":-1750,"y":200.5,"n":20},{"x":-1750,"y":201.5,"n":19},{"x":-1750,"y":202.5,"n":15},{"x":-1750,"y":203.5,"n":10},{"x":-1750,"y":204.5,"n":6},{"x":-1750,"y":205.5,"n":3},{"x":-1750,"y":206.5,"n":1},
{"x":-1755,"y":197.5,"n":2},{"x":-1755,"y":198.5,"n":5},{"x":-1755,"y":199.5,"n":9},{"x":-1755,"y":200.5,"n":14},{"x":-1755,"y":201.5,"n":18},{"x":-1755,"y":202.5,"n":20},{"x":-1755,"y":203.5,"n":18},{"x":-1755,"y":204.5,"n":14},{"x":-1755,"y":205.5,"n":9},{"x":-1755,"y":206.5,"n":5},{"x":-1755,"y":207.5,"n":2},
{"x":-1760,"y":198.5,"n":1},{"x":-1760,"y":199.5,"n":2},{"x":-1760,"y":200.5,"n":4},{"x":-1760,"y":201.5,"n":8},{"x":-1760,"y":202.5,"n":13},{"x":-1760,"y":203.5,"n":17},{"x":-1760,"y":204.5,"n":20},{"x":-1760,"y":205.5,"n":19},{"x":-1760,"y":206.5,"n":15},{"x":-1760,"y":207.5,"n":10},{"x":-1760,"y":208.5,"n":6},{"x":-1760,"y":209.5,"n":3},{"x":-1760,"y":210.5,"n":1},{"x":-1760,"y":212.5,"n":1},
{"x":-1765,"y":202.5,"n":2},{"x":-1765,"y":203.5,"n":8},{"x":-1765,"y":204.5,"n":13},{"x":-1765,"y":205.5,"n":17},{"x":-1765,"y":206.5,"n":20},{"x":-1765,"y":207.5,"n":19},{"x":-1765,"y":208.5,"n":15},{"x":-1765,"y":209.5,"n":10},{"x":-1765,"y":210.5,"n":6},{"x":-1765,"y":211.5,"n":3},{"x":-1765,"y":212.5,"n":1},
{"x":-1770,"y":201.5,"n":1},{"x":-1770,"y":203.5,"n":1},{"x":-1770,"y":204.5,"n":3},{"x":-1770,"y":205.5,"n":7},{"x":-1770,"y":206.5,"n":12},{"x":-1770,"y":207.5,"n":16},{"x":-1770,"y":208.5,"n":20},{"x":-1770,"y":209.5,"n":20},{"x":-1770,"y":210.5,"n":16},{"x":-1770,"y":211.5,"n":12},{"x":-1770,"y":212.5,"n":7},{"x":-1770,"y":213.5,"n":3},{"x":-1770,"y":214.5,"n":1},
{"x":-1775,"y":204.5,"n":1},{"x":-1775,"y":205.5,"n":2},{"x":-1775,"y":206.5,"n":4},{"x":-1775,"y":207.5,"n":8},{"x":-1775,"y":208.5,"n":13},{"x":-1775,"y":209.5,"n":17},{"x":-1775,"y":210.5,"n":20},{"x":-1775,"y":211.5,"n":19},{"x":-1775,"y":212.5,"n":15},{"x":-1775,"y":213.5,"n":10},{"x":-1775,"y":214.5,"n":6},{"x":-1775,"y":215.5,"n":3},
{"x":-1780,"y":206.5,"n":1},{"x":-1780,"y":207.5,"n":2},{"x":-1780,"y":208.5,"n":5},{"x":-1780,"y":209.5,"n":9},{"x":-1780,"y":210.5,"n":14},{"x":-1780,"y":211.5,"n":18},{"x":-1780,"y":212.5,"n":20},{"x":-1780,"y":213.5,"n":18},{"x":-1780,"y":214.5,"n":14},{"x":-1780,"y":215.5,"n":9},{"x":-1780,"y":216.5,"n":5},{"x":-1780,"y":217.5,"n":2},
{"x":-1785,"y":208.5,"n":2},{"x":-1785,"y":209.5,"n":2},{"x":-1785,"y":210.5,"n":5},{"x":-1785,"y":211.5,"n":9},{"x":-1785,"y":212.5,"n":14},{"x":-1785,"y":213.5,"n":18},{"x":-1785,"y":214.5,"n":20},{"x":-1785,"y":215.5,"n":18},{"x":-1785,"y":216.5,"n":14},{"x":-1785,"y":217.5,"n":9},{"x":-1785,"y":218.5,"n":5},{"x":-1785,"y":219.5,"n":2},
{"x":-1790,"y":211.5,"n":3},{"x":-1790,"y":212.5,"n":7},{"x":-1790,"y":213.5,"n":12},{"x":-1790,"y":214.5,"n":16},{"x":-1790,"y":215.5,"n":20},{"x":-1790,"y":216.5,"n":20},{"x":-1790,"y":217.5,"n":16},{"x":-1790,"y":218.5,"n":12},{"x":-1790,"y":219.5,"n":7},{"x":-1790,"y":220.5,"n":3},{"x":-1790,"y":221.5,"n":1},
{"x":-1795,"y":210.5,"n":1},{"x":-1795,"y":212.5,"n":1},{"x":-1795,"y":213.5,"n":3},{"x":-1795,"y":214.5,"n":7},{"x":-1795,"y":215.5,"n":12},{"x":-1795,"y":216.5,"n":16},{"x":-1795,"y":217.5,"n":20},{"x":-1795,"y":218.5,"n":20},{"x":-1795,"y":219.5,"n":16},{"x":-1795,"y":220.5,"n":12},{"x":-1795,"y":221.5,"n":7},{"x":-1795,"y":222.5,"n":3},{"x":-1795,"y":223.5,"n":1},{"x":-1795,"y":225.5,"n":1},
{"x":-1800,"y":213.5,"n":2},{"x":-1800,"y":214.5,"n":2},{"x":-1800,"y":215.5,"n":4},{"x":-1800,"y":216.5,"n":8},{"x":-1800,"y":217.5,"n":13},{"x":-1800,"y":218.5,"n":17},{"x":-1800,"y":219.5,"n":20},{"x":-1800,"y":220.5,"n":19},{"x":-1800,"y":221.5,"n":15},{"x":-1800,"y":222.5,"n":10},{"x":-1800,"y":223.5,"n":6},{"x":-1800,"y":224.5,"n":3},{"x":-1800,"y":225.5,"n":1},
{"x":-1805,"y":215.5,"n":1},{"x":-1805,"y":216.5,"n":2},{"x":-1805,"y":217.5,"n":5},{"x":-1805,"y":218.5,"n":9},{"x":-1805,"y":219.5,"n":14},{"x":-1805,"y":220.5,"n":18},{"x":-1805,"y":221.5,"n":20},{"x":-1805,"y":222.5,"n":18},{"x":-1805,"y":223.5,"n":14},{"x":-1805,"y":224.5,"n":9},{"x":-1805,"y":225.5,"n":5},{"x":-1805,"y":226.5,"n":2},{"x":-1805,"y":227.5,"n":1},
{"x":-1810,"y":217.5,"n":1},{"x":-1810,"y":218.5,"n":2},{"x":-1810,"y":219.5,"n":5},{"x":-1810,"y":220.5,"n":9},{"x":-1810,"y":221.5,"n":14},{"x":-1810,"y":222.5,"n":18},{"x":-1810,"y":223.5,"n":20},{"x":-1810,"y":224.5,"n":18},{"x":-1810,"y":225.5,"n":14},{"x":-1810,"y":226.5,"n":9},{"x":-1810,"y":227.5,"n":5},{"x":-1810,"y":228.5,"n":2},
{"x":-1815,"y":217.5,"n":1},{"x":-1815,"y":219.5,"n":1},{"x":-1815,"y":220.5,"n":3},{"x":-1815,"y":221.5,"n":6},{"x":-1815,"y":222.5,"n":10},{"x":-1815,"y":223.5,"n":15},{"x":-1815,"y":224.5,"n":19},{"x":-1815,"y":225.5,"n":20},{"x":-1815,"y":226.5,"n":17},{"x":-1815,"y":227.5,"n":13},{"x":-1815,"y":228.5,"n":8},{"x":-1815,"y":229.5,"n":4},{"x":-1815,"y":230.5,"n":2},{"x":-1815,"y":231.5,"n":1},
{"x":-1820,"y":221.5,"n":1},{"x":-1820,"y":222.5,"n":3},{"x":-1820,"y":223.5,"n":7},{"x":-1820,"y":224.5,"n":12},{"x":-1820,"y":225.5,"n":16},{"x":-1820,"y":226.5,"n":20},{"x":-1820,"y":227.5,"n":20},{"x":-1820,"y":228.5,"n":16},{"x":-1820,"y":229.5,"n":12},{"x":-1820,"y":230.5,"n":7},{"x":-1820,"y":231.5,"n":3},
{"x":-1825,"y":223.5,"n":1},{"x":-1825,"y":224.5,"n":4},{"x":-1825,"y":225.5,"n":8},{"x":-1825,"y":226.5,"n":13},{"x":-1825,"y":227.5,"n":17},{"x":-1825,"y":228.5,"n":20},{"x":-1825,"y":229.5,"n":19},{"x":-1825,"y":230.5,"n":15},{"x":-1825,"y":231.5,"n":10},{"x":-1825,"y":232.5,"n":6},{"x":-1825,"y":233.5,"n":3},{"x":-1825,"y":234.5,"n":1},
{"x":-1830,"y":224.5,"n":1},{"x":-1830,"y":225.5,"n":3},{"x":-1830,"y":226.5,"n":6},{"x":-1830,"y":227.5,"n":10},{"x":-1830,"y":228.5,"n":15},{"x":-1830,"y":229.5,"n":19},{"x":-1830,"y":230.5,"n":20},{"x":-1830,"y":231.5,"n":17},{"x":-1830,"y":232.5,"n":13},{"x":-1830,"y":233.5,"n":8},{"x":-1830,"y":234.5,"n":4},{"x":-1830,"y":235.5,"n":2},
{"x":-1835,"y":226.5,"n":1},{"x":-1835,"y":227.5,"n":4},{"x":-1835,"y":228.5,"n":8},{"x":-1835,"y":229.5,"n":13},{"x":-1835,"y":230.5,"n":17},{"x":-1835,"y":231.5,"n":20},{"x":-1835,"y":232.5,"n":19},{"x":-1835,"y":233.5,"n":15},{"x":-1835,"y":234.5,"n":10},{"x":-1835,"y":235.5,"n":6},{"x":-1835,"y":236.5,"n":3},{"x":-1835,"y":237.5,"n":1},
{"x":-1840,"y":227.5,"n":1},{"x":-1840,"y":228.5,"n":3},{"x":-1840,"y":229.5,"n":6},{"x":-1840,"y":230.5,"n":10},{"x":-1840,"y":231.5,"n":15},{"x":-1840,"y":232.5,"n":19},{"x":-1840,"y":233.5,"n":20},{"x":-1840,"y":234.5,"n":17},{"x":-1840,"y":235.5,"n":13},{"x":-1840,"y":236.5,"n":8},{"x":-1840,"y":237.5,"n":4},{"x":-1840,"y":238.5,"n":2},{"x":-1840,"y":239.5,"n":1},
{"x":-1845,"y":226.5,"n":1},{"x":-1845,"y":228.5,"n":1},{"x":-1845,"y":229.5,"n":2},{"x":-1845,"y":230.5,"n":4},{"x":-1845,"y":231.5,"n":8},{"x":-1845,"y":232.5,"n":13},{"x":-1845,"y":233.5,"n":17},{"x":-1845,"y":234.5,"n":20},{"x":-1845,"y":235.5,"n":19},{"x":-1845,"y":236.5,"n":15},{"x":-1845,"y":237.5,"n":10},{"x":-1845,"y":238.5,"n":6},{"x":-1845,"y":239.5,"n":3},{"x":-1845,"y":240.5,"n":1},{"x":-1845,"y":242.5,"n":1},
{"x":-1850,"y":231.5,"n":3},{"x":-1850,"y":232.5,"n":6},{"x":-1850,"y":233.5,"n":10},{"x":-1850,"y":234.5,"n":15},{"x":-1850,"y":235.5,"n":19},{"x":-1850,"y":236.5,"n":20},{"x":-1850,"y":237.5,"n":17},{"x":-1850,"y":238.5,"n":13},{"x":-1850,"y":239.5,"n":8},{"x":-1850,"y":240.5,"n":4},
{"x":-1855,"y":232.5,"n":2},{"x":-1855,"y":233.5,"n":4},{"x":-1855,"y":234.5,"n":8},{"x":-1855,"y":235.5,"n":13},{"x":-1855,"y":236.5,"n":17},{"x":-1855,"y":237.5,"n":20},{"x":-1855,"y":238.5,"n":19},{"x":-1855,"y":239.5,"n":15},{"x":-1855,"y":240.5,"n":10},{"x":-1855,"y":241.5,"n":6},{"x":-1855,"y":242.5,"n":3},
{"x":-1860,"y":233.5,"n":1},{"x":-1860,"y":234.5,"n":3},{"x":-1860,"y":235.5,"n":6},{"x":-1860,"y":236.5,"n":10},{"x":-1860,"y":237.5,"n":15},{"x":-1860,"y":238.5,"n":19},{"x":-1860,"y":239.5,"n":20},{"x":-1860,"y":240.5,"n":17},{"x":-1860,"y":241.5,"n":13},{"x":-1860,"y":242.5,"n":8},{"x":-1860,"y":243.5,"n":4},{"x":-1860,"y":244.5,"n":2},{"x":-1860,"y":245.5,"n":1},{"x":-1860,"y":247.5,"n":1},
{"x":-1865,"y":232.5,"n":1},{"x":-1865,"y":234.5,"n":1},{"x":-1865,"y":235.5,"n":2},{"x":-1865,"y":236.5,"n":4},{"x":-1865,"y":237.5,"n":8},{"x":-1865,"y":238.5,"n":13},{"x":-1865,"y":239.5,"n":17},{"x":-1865,"y":240.5,"n":20},{"x":-1865,"y":241.5,"n":19},{"x":-1865,"y":242.5,"n":15},{"x":-1865,"y":243.5,"n":10},{"x":-1865,"y":244.5,"n":6},{"x":-1865,"y":245.5,"n":3},{"x":-1865,"y":246.5,"n":1},
{"x":-1870,"y":236.5,"n":1},{"x":-1870,"y":237.5,"n":3},{"x":-1870,"y":238.5,"n":6},{"x":-1870,"y":239.5,"n":10},{"x":-1870,"y":240.5,"n":15},{"x":-1870,"y":241.5,"n":19},{"x":-1870,"y":242.5,"n":20},{"x":-1870,"y":243.5,"n":17},{"x":-1870,"y":244.5,"n":13},{"x":-1870,"y":245.5,"n":8},{"x":-1870,"y":246.5,"n":4},{"x":-1870,"y":247.5,"n":2},
{"x":-1875,"y":236.5,"n":1},{"x":-1875,"y":238.5,"n":2},{"x":-1875,"y":239.5,"n":4},{"x":-1875,"y":240.5,"n":8},{"x":-1875,"y":241.5,"n":13},{"x":-1875,"y":242.5,"n":17},{"x":-1875,"y":243.5,"n":20},{"x":-1875,"y":244.5,"n":19},{"x":-1875,"y":245.5,"n":15},{"x":-1875,"y":246.5,"n":10},{"x":-1875,"y":247.5,"n":6},{"x":-1875,"y":248.5,"n":3},{"x":-1875,"y":249.5,"n":1},
{"x":-1880,"y":239.5,"n":1},{"x":-1880,"y":240.5,"n":3},{"x":-1880,"y":241.5,"n":7},{"x":-1880,"y":242.5,"n":12},{"x":-1880,"y":243.5,"n":16},{"x":-1880,"y":244.5,"n":20},{"x":-1880,"y":245.5,"n":20},{"x":-1880,"y":246.5,"n":16},{"x":-1880,"y":247.5,"n":12},{"x":-1880,"y":248.5,"n":7},{"x":-1880,"y":249.5,"n":3},{"x":-1880,"y":250.5,"n":1},{"x":-1880,"y":252.5,"n":1},
{"x":-1885,"y":241.5,"n":2},{"x":-1885,"y":242.5,"n":5},{"x":-1885,"y":243.5,"n":9},{"x":-1885,"y":244.5,"n":14},{"x":-1885,"y":245.5,"n":18},{"x":-1885,"y":246.5,"n":20},{"x":-1885,"y":247.5,"n":18},{"x":-1885,"y":248.5,"n":14},{"x":-1885,"y":249.5,"n":9},{"x":-1885,"y":250.5,"n":5},{"x":-1885,"y":251.5,"n":2},{"x":-1885,"y":252.5,"n":1},
{"x":-1890,"y":240.5,"n":1},{"x":-1890,"y":242.5,"n":1},{"x":-1890,"y":243.5,"n":3},{"x":-1890,"y":244.5,"n":7},{"x":-1890,"y":245.5,"n":12},{"x":-1890,"y":246.5,"n":16},{"x":-1890,"y":247.5,"n":20},{"x":-1890,"y":248.5,"n":20},{"x":-1890,"y":249.5,"n":16},{"x":-1890,"y":250.5,"n":12},{"x":-1890,"y":251.5,"n":7},{"x":-1890,"y":252.5,"n":3},{"x":-1890,"y":253.5,"n":1},
{"x":-1895,"y":241.5,"n":1},{"x":-1895,"y":243.5,"n":1},{"x":-1895,"y":244.5,"n":2},{"x":-1895,"y":245.5,"n":4},{"x":-1895,"y":246.5,"n":8},{"x":-1895,"y":247.5,"n":13},{"x":-1895,"y":248.5,"n":17},{"x":-1895,"y":249.5,"n":20},{"x":-1895,"y":250.5,"n":19},{"x":-1895,"y":251.5,"n":15},{"x":-1895,"y":252.5,"n":10},{"x":-1895,"y":253.5,"n":6},{"x":-1895,"y":254.5,"n":4},
{"x":-1900,"y":245.5,"n":1},{"x":-1900,"y":246.5,"n":3},{"x":-1900,"y":247.5,"n":6},{"x":-1900,"y":248.5,"n":10},{"x":-1900,"y":249.5,"n":15},{"x":-1900,"y":250.5,"n":19},{"x":-1900,"y":251.5,"n":20},{"x":-1900,"y":252.5,"n":17},{"x":-1900,"y":253.5,"n":13},{"x":-1900,"y":254.5,"n":15},
{"x":-1905,"y":246.5,"n":1},{"x":-1905,"y":247.5,"n":2},{"x":-1905,"y":248.5,"n":5},{"x":-1905,"y":249.5,"n":9},{"x":-1905,"y":250.5,"n":14},{"x":-1905,"y":251.5,"n":18},{"x":-1905,"y":252.5,"n":20},{"x":-1905,"y":253.5,"n":18},{"x":-1905,"y":254.5,"n":31},
{"x":-1910,"y":247.5,"n":1},{"x":-1910,"y":248.5,"n":3},{"x":-1910,"y":249.5,"n":6},{"x":-1910,"y":250.5,"n":10},{"x":-1910,"y":251.5,"n":15},{"x":-1910,"y":252.5,"n":19},{"x":-1910,"y":253.5,"n":20},{"x":-1910,"y":254.5,"n":45},
{"x":-1915,"y":248.5,"n":1},{"x":-1915,"y":249.5,"n":3},{"x":-1915,"y":250.5,"n":7},{"x":-1915,"y":251.5,"n":12},{"x":-1915,"y":252.5,"n":16},{"x":-1915,"y":253.5,"n":20},{"x":-1915,"y":254.5,"n":59},
{"x":-1920,"y":249.5,"n":1},{"x":-1920,"y":250.5,"n":3},{"x":-1920,"y":251.5,"n":7},{"x":-1920,"y":252.5,"n":12},{"x":-1920,"y":253.5,"n":18},{"x":-1920,"y":254.5,"n":78},
{"x":-1925,"y":251.5,"n":2},{"x":-1925,"y":252.5,"n":5},{"x":-1925,"y":253.5,"n":10},{"x":-1925,"y":254.5,"n":103},
{"x":-1930,"y":252.5,"n":2},{"x":-1930,"y":253.5,"n":4},{"x":-1930,"y":254.5,"n":114},
{"x":-1935,"y":253.5,"n":1},{"x":-1935,"y":254.5,"n":120},{"x":-1940,"y":254.5,"n":119},{"x":-1945,"y":254.5,"n":123},{"x":-1950,"y":254.5,"n":120},{"x":-1955,"y":254.5,"n":118},{"x":-1960,"y":254.5,"n":122},{"x":-1965,"y":254.5,"n":121},{"x":-1970,"y":254.5,"n":170},{"x":-1975,"y":254.5,"n":55},{"x":-1980,"y":254.5,"n":120},
{"x":-1985,"y":254.5,"n":123},{"x":-1990,"y":254.5,"n":119},{"x":-1995,"y":254.5,"n":121},{"x":-2000,"y":254.5,"n":118},{"x":-2005,"y":254.5,"n":170},{"x":-2010,"y":254.5,"n":122},{"x":-2015,"y":254.5,"n":120},{"x":-2020,"y":254.5,"n":124},{"x":-2025,"y":254.5,"n":119},{"x":-2030,"y":254.5,"n":121},
{"x":-2035,"y":254.5,"n":118},{"x":-2040,"y":254.5,"n":123},{"x":-2045,"y":254.5,"n":120},{"x":-2050,"y":254.5,"n":122},{"x":-2055,"y":254.5,"n":168},{"x":-2060,"y":254.5,"n":119},{"x":-2065,"y":254.5,"n":55},{"x":-2070,"y":254.5,"n":121},{"x":-2075,"y":254.5,"n":118},{"x":-2080,"y":254.5,"n":123},
{"x":-2085,"y":254.5,"n":120},{"x":-2090,"y":254.5,"n":121},{"x":-2095,"y":254.5,"n":119}
]},
"mark":{"type":"rect"},
"encoding":{
"x":{"field":"x","type":"quantitative","bin":{"binned":true,"step":5},"title":"Gate-Source Voltage in mV","scale":{"domain":[-2095,-900],"reverse":true,"nice":false,"zero":false},
"axis":{"values":[-900,-1150,-1400,-1650,-1900],"labelExpr":"'-' + format(-datum.value, '.1f')","grid":true,"gridColor":"#000","gridDash":[1,3],"gridOpacity":0.7,"gridWidth":0.8,"ticks":true,"tickSize":-4,"labelPadding":10,"titlePadding":3}},
"y":{"field":"y","type":"quantitative","bin":{"binned":true,"step":1},"title":"Output Code","scale":{"domain":[0,260],"nice":false,"zero":false},
"axis":{"values":[0,50,100,150,200,250],"format":"d","grid":true,"gridColor":"#000","gridDash":[1,3],"gridOpacity":0.7,"gridWidth":0.8,"ticks":true,"tickSize":-4,"labelPadding":9.5,"titlePadding":4}},
"color":{"field":"n","type":"quantitative","legend":null,
"scale":{"type":"log","domain":[1,1.769,1.912,5.834,6.145,6.997,27.66,29.13,30.69,101.2,112.2,179],"range":["#000080","#0000ff","#0000ff","#00dbff","#00e5f7","#14ffe2","#eeff08","#f7f500","#ffec00","#ff1300","#e80000","#800000"],"interpolate":"rgb","nice":false,"clamp":true}}
}},
{"data":{"values":[{"x":-1290,"y":0},{"x":-1869,"y":260}]},
"mark":{"type":"line","color":"#1414d8","strokeWidth":1.1},
"encoding":{"x":{"field":"x","type":"quantitative","title":"Gate-Source Voltage in mV"},"y":{"field":"y","type":"quantitative","title":"Output Code"}}},
{"data":{"values":[{"x":-900,"y":1},{"x":-1295,"y":1},{"x":-1314,"y":8.3},{"x":-1333,"y":17.5},{"x":-1351,"y":26.7},{"x":-1377,"y":37.7},{"x":-1403,"y":47.3},{"x":-1423,"y":54.1},{"x":-1460,"y":72},{"x":-1496,"y":90},{"x":-1520,"y":100},{"x":-1548,"y":114.6},{"x":-1580,"y":131.5},{"x":-1599,"y":141.2},{"x":-1618,"y":151.3},{"x":-1637,"y":160.4},{"x":-1651,"y":166.8},{"x":-1667,"y":175.1},{"x":-1681,"y":181.5},{"x":-1692,"y":185.6},{"x":-1711,"y":190.7},{"x":-1727,"y":195.2},{"x":-1741,"y":199.8},{"x":-1749,"y":201.7},{"x":-1770,"y":210.4},{"x":-1797,"y":220},{"x":-1819,"y":228.2},{"x":-1841,"y":234.7},{"x":-1862,"y":241.1},{"x":-1884,"y":247.5},{"x":-1900,"y":252.5},{"x":-1911,"y":254.3},{"x":-1922,"y":254.8},{"x":-1935,"y":255},{"x":-2095,"y":255}]},
"mark":{"type":"line","color":"#000","strokeWidth":1.3},
"encoding":{"x":{"field":"x","type":"quantitative","title":"Gate-Source Voltage in mV"},"y":{"field":"y","type":"quantitative","title":"Output Code"}}},
{"data":{"values":[{"x":-1013.8,"x2":-1180.3,"y":255.1,"y2":261.2},{"x":-1012.8,"x2":-1334.8,"y":195.3,"y2":248.6}]},
"mark":{"type":"rect","fill":"white","stroke":"#000","strokeWidth":1},
"encoding":{"x":{"field":"x","type":"quantitative","title":"Gate-Source Voltage in mV"},"x2":{"field":"x2"},"y":{"field":"y","type":"quantitative","title":"Output Code"},"y2":{"field":"y2"}}},
{"data":{"values":[{"x":-1021,"y":258.2,"t":"active_row: 8"}]},
"mark":{"type":"text","align":"left","baseline":"middle","font":"DejaVu Sans","fontSize":14,"color":"#000"},
"encoding":{"x":{"field":"x","type":"quantitative","title":"Gate-Source Voltage in mV"},"y":{"field":"y","type":"quantitative","title":"Output Code"},"text":{"field":"t","type":"nominal"}}},
{"data":{"values":[{"x":-1021,"y":235.0,"t":"__INLpp_middle_17.72"},{"x":-1021,"y":199.1,"t":"fit_chi2 = 2773.40"}]},
"mark":{"type":"text","align":"left","baseline":"middle","font":"DejaVu Sans","fontSize":16,"color":"#000"},
"encoding":{"x":{"field":"x","type":"quantitative","title":"Gate-Source Voltage in mV"},"y":{"field":"y","type":"quantitative","title":"Output Code"},"text":{"field":"t","type":"nominal"}}},
{"data":{"values":[{"x":-1021,"y":240.2,"t":"ID = INLpp_17.72"},{"x":-1021,"y":224.7,"t":"min_code = 1"},{"x":-1021,"y":219.5,"t":"max_code = 255"},{"x":-1021,"y":214.4,"t":"width = 50.52"},{"x":-1021,"y":209.3,"t":"LSB = 1.70 nA"}]},
"mark":{"type":"text","align":"left","baseline":"middle","font":"DejaVu Sans","fontSize":16,"color":"#000","dx":5},
"encoding":{"x":{"field":"x","type":"quantitative","title":"Gate-Source Voltage in mV"},"y":{"field":"y","type":"quantitative","title":"Output Code"},"text":{"field":"t","type":"nominal"}}}
]},
{"width":48,"height":946,
"data":{"values":[{"lo":1,"hi":179}]},
"mark":{"type":"rect","fill":{"gradient":"linear","x1":0,"y1":1,"x2":0,"y2":0,"stops":[{"offset":0,"color":"#000080"},{"offset":0.11,"color":"#0000ff"},{"offset":0.125,"color":"#0000ff"},{"offset":0.34,"color":"#00dbff"},{"offset":0.35,"color":"#00e5f7"},{"offset":0.375,"color":"#14ffe2"},{"offset":0.64,"color":"#eeff08"},{"offset":0.65,"color":"#f7f500"},{"offset":0.66,"color":"#ffec00"},{"offset":0.89,"color":"#ff1300"},{"offset":0.91,"color":"#e80000"},{"offset":1,"color":"#800000"}]}},
"encoding":{
"x":{"datum":0,"type":"quantitative","scale":{"domain":[0,1],"nice":false,"zero":false},"axis":null},
"x2":{"datum":1},
"y":{"field":"lo","type":"quantitative","title":"ADU frequency","scale":{"type":"log","domain":[1,179],"nice":false},
"axis":{"orient":"right","values":[1,10,100],"labelExpr":"datum.value < 5 ? '10\u2070' : datum.value < 50 ? '10\u00b9' : '10\u00b2'","ticks":true,"tickSize":-5,"labelPadding":10,"zindex":1,"titleAngle":270,"titleBaseline":"top","titlePadding":4}},
"y2":{"field":"hi"}
}}
]
}
